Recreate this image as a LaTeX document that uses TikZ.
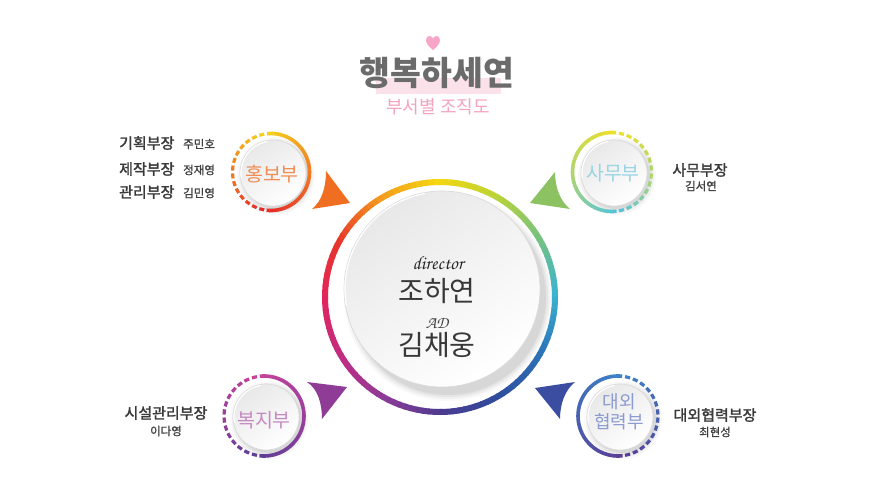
\documentclass[tikz,border=0pt]{standalone}
\usepackage{fontspec}
\newfontfamily\kr{Noto Sans CJK KR}
\newfontfamily\krm{Noto Sans CJK KR}[FakeBold=1.8]
\newfontfamily\krn{Noto Sans CJK KR}[FakeBold=1.0]
\newcommand\scr{\fontencoding{OT1}\fontfamily{pzc}\fontseries{m}\fontshape{it}\selectfont}
\newcommand\myfs[1]{\fontsize{#1}{#1}\selectfont}
\definecolor{rY}{HTML}{F6D60F}
\definecolor{rO}{HTML}{F39A1E}
\definecolor{rR}{HTML}{E73629}
\definecolor{rC}{HTML}{E2255E}
\definecolor{rM}{HTML}{C12C84}
\definecolor{rP}{HTML}{8C3B97}
\definecolor{rI}{HTML}{4B3B90}
\definecolor{rD}{HTML}{2E4E9E}
\definecolor{rB}{HTML}{2C73B7}
\definecolor{rCy}{HTML}{3BB4CF}
\definecolor{rG}{HTML}{78C27F}
\definecolor{rYG}{HTML}{BCD435}
% small rings
\definecolor{hY}{HTML}{F5D11F}
\definecolor{hO}{HTML}{F07A22}
\definecolor{hR}{HTML}{E32A2A}
\definecolor{sY}{HTML}{EDE02A}
\definecolor{sG}{HTML}{B0D66E}
\definecolor{sC}{HTML}{55C4D8}
\definecolor{bM}{HTML}{C4439B}
\definecolor{bP}{HTML}{9B3E9C}
\definecolor{bV}{HTML}{5E3F96}
\definecolor{dB}{HTML}{3D82C8}
\definecolor{dM}{HTML}{4862B0}
\definecolor{dV}{HTML}{5B3E98}
% triangles
\definecolor{triO}{HTML}{EF6E22}
\definecolor{triG}{HTML}{8DC262}
\definecolor{triP}{HTML}{8E3C96}
\definecolor{triB}{HTML}{3A4DA0}
% text
\definecolor{titlegray}{HTML}{6B6B6B}
\definecolor{pinkbar}{HTML}{FBE2EA}
\definecolor{subpink}{HTML}{F4A3BF}
\definecolor{heart}{HTML}{F7A6C8}
\definecolor{labgray}{HTML}{3A3A3A}
\definecolor{namegray}{HTML}{404040}
\definecolor{thO}{HTML}{F08D55}
\definecolor{thC}{HTML}{9AD4E3}
\definecolor{thP}{HTML}{C58AC1}
\definecolor{thB}{HTML}{8B9AD0}

\newcommand\solidarc[7]{%
  \foreach \i in {0,...,23}{%
    \pgfmathsetmacro\aa{#3+(#4-#3)*\i/24}%
    \pgfmathsetmacro\ab{#3+(#4-#3)*(\i+1.15)/24}%
    \pgfmathtruncatemacro\pp{100*\i/23}%
    \draw[line width=#7, color=#6!\pp!#5] (#1) ++(\aa:#2) arc[start angle=\aa, end angle=\ab, radius=#2];
  }}
\newcommand\dasharc[7]{%
  \foreach \i in {1,...,#7}{%
    \pgfmathsetmacro\aa{#3+(#4-#3)*(\i-0.82)/#7}%
    \pgfmathsetmacro\ab{#3+(#4-#3)*(\i-0.18)/#7}%
    \pgfmathtruncatemacro\pp{100*(\i-1)/(#7-1)}%
    \draw[line width=3.2pt, color=#6!\pp!#5] (#1) ++(\aa:#2) arc[start angle=\aa, end angle=\ab, radius=#2];
  }}
\newcommand\softshadow[4]{% center, radius, xshift, yshift
  \foreach \k/\o in {6/0.025,4/0.035,2/0.045,0/0.06}{%
    \fill[black, opacity=\o] ([shift={(#3,#4)}]#1) circle (#2+\k);
  }}
\newcommand\disk[2]{%
  \shade[top color=black!9, bottom color=white, shading angle=35] (#1) circle (#2);
  \draw[black!14, line width=0.7pt] (#1) circle (#2);
  \draw[white, line width=1.2pt] (#1) ++(100:#2-1) arc[start angle=100, end angle=190, radius=#2-1];
}

\tikzset{
  lab/.style={font=\krm\myfs{15}, text=labgray, inner sep=0pt},
  nam/.style={font=\krn\myfs{11.5}, text=namegray, inner sep=0pt},
  dept/.style={font=\kr\myfs{19.5}, inner sep=0pt},
}

\begin{document}
\begin{tikzpicture}[x=1pt,y=1pt]
\useasboundingbox[fill=white] (0,0) rectangle (880,499);

% ---------- title ----------
\fill[heart] (433,449) .. controls (428,453) and (426,456) .. (426,459)
  .. controls (426,462) and (428,463) .. (429.5,463)
  .. controls (431.5,463) and (433,461.5) .. (433,460)
  .. controls (433,461.5) and (434.5,463) .. (436.5,463)
  .. controls (438,463) and (440,462) .. (440,459)
  .. controls (440,456) and (438,453) .. (433,449);
\fill[pinkbar] (376,405) rectangle (501,421);
\node[font=\kr\bfseries\myfs{33.5}, text=titlegray, inner sep=0pt] (title) at (437,426) {행복하세연};
\node[font=\kr\myfs{18}, text=subpink, inner sep=0pt] (subtitle) at (438,392) {부서별 조직도};

% ---------- centres ----------
\coordinate (mc) at (440,202);
\coordinate (md) at (442,210);
\coordinate (hb) at (271,327);
\coordinate (hbd) at (273,326);
\coordinate (sm) at (612,327);
\coordinate (smd) at (614,326);
\coordinate (bj) at (264,83);
\coordinate (bjd) at (266,82);
\coordinate (dw) at (618,83);
\coordinate (dwd) at (620,82);

% ---------- main circle ----------
\softshadow{md}{98}{6}{-8}
\foreach \sa/\ca/\cb in {90/rY/rO,120/rO/rR,150/rR/rC,180/rC/rM,210/rM/rP,240/rP/rI,270/rI/rD,300/rD/rB,330/rB/rCy,360/rCy/rG,390/rG/rYG,420/rYG/rY}{
  \foreach \i in {0,...,9}{
    \pgfmathtruncatemacro\pp{\i*10}
    \pgfmathsetmacro\aa{\sa+3*\i}
    \draw[line width=6pt, color=\cb!\pp!\ca] (mc) ++(\aa:115) arc[start angle=\aa, end angle=\aa+3.6, radius=115];
  }
}
\disk{md}{98}

\node[font=\scr\myfs{19}, text=black!85, inner sep=0pt] (dir) at (438,236) {director};
\node[font=\kr\myfs{28}, text=black!78, inner sep=0pt] (dname) at (437,208) {조하연};
\node[font=\scr\myfs{17}, text=black!75, inner sep=0pt] (ad) at (437,176) {AD};
\node[font=\kr\myfs{28}, text=black!78, inner sep=0pt] (aname) at (437,154) {김채웅};

% ---------- triangles ----------
\fill[triO] (326,328) -- (350,296) -- (312,290) .. controls (322,298) and (326,312) .. (326,328);
\fill[triG] (555,327) -- (530,296) -- (570,290) .. controls (560,298) and (555,312) .. (555,327);
\fill[triP] (307,117) -- (347,112) -- (322,80) .. controls (322,95) and (318,110) .. (307,117);
\fill[triB] (535,111) -- (575,117) .. controls (565,109) and (560,95) .. (560,80) -- (535,111);

% ---------- 홍보부 ----------
\softshadow{hbd}{33}{3}{-3}
\solidarc{hb}{38.5}{96}{0}{hY}{hO}{3.6pt}
\solidarc{hb}{38.5}{0}{-96}{hO}{hR}{3.6pt}
\dasharc{hb}{38.5}{-98}{-180}{hR}{hO}{7}
\dasharc{hb}{38.5}{-180}{-262}{hO}{hY}{7}
\disk{hbd}{33}
\node[dept, text=thO] (hbt) at (272,325) {홍보부};

% ---------- 사무부 ----------
\softshadow{smd}{33}{3}{-3}
\solidarc{sm}{39.5}{84}{180}{sY}{sG}{3.6pt}
\solidarc{sm}{39.5}{180}{276}{sG}{sC}{3.6pt}
\dasharc{sm}{39.5}{82}{0}{sY}{sG}{7}
\dasharc{sm}{39.5}{0}{-82}{sG}{sC}{7}
\disk{smd}{33}
\node[dept, text=thC] (smt) at (613,326) {사무부};

% ---------- 복지부 ----------
\softshadow{bjd}{33}{3}{-3}
\solidarc{bj}{40}{96}{0}{bM}{bP}{3.6pt}
\solidarc{bj}{40}{0}{-96}{bP}{bV}{3.6pt}
\dasharc{bj}{40}{98}{180}{bM}{bP}{7}
\dasharc{bj}{40}{180}{262}{bP}{bV}{7}
\disk{bjd}{33}
\node[dept, text=thP] (bjt) at (264,79) {복지부};

% ---------- 대외협력부 ----------
\softshadow{dwd}{33}{3}{-3}
\solidarc{dw}{40}{84}{180}{dB}{dM}{3.6pt}
\solidarc{dw}{40}{180}{276}{dM}{dV}{3.6pt}
\dasharc{dw}{40}{82}{0}{dB}{dM}{7}
\dasharc{dw}{40}{0}{-82}{dM}{dV}{7}
\disk{dwd}{33}
\node[text=thB, align=center, inner sep=0pt, font=\kr\fontsize{18}{20}\selectfont] (dwt) at (619,87) {대외\\협력부};

% ---------- labels ----------
\node[lab, anchor=west] (l1) at (119,356) {기획부장};
\node[nam, anchor=west] (n1) at (183,355) {주민호};
\node[lab, anchor=west] (l2) at (119,330) {제작부장};
\node[nam, anchor=west] (n2) at (183,329) {정재영};
\node[lab, anchor=west] (l3) at (119,307) {관리부장};
\node[nam, anchor=west] (n3) at (183,306) {김민영};

\node[lab] (l4) at (700,329) {사무부장};
\node[nam] (n4) at (701,313) {김서연};

\node[lab] (l5) at (166,86) {시설관리부장};
\node[nam] (n5) at (166,68) {이다영};

\node[lab] (l6) at (715,84) {대외협력부장};
\node[nam] (n6) at (715,67) {최현성};
\end{tikzpicture}
\end{document}
